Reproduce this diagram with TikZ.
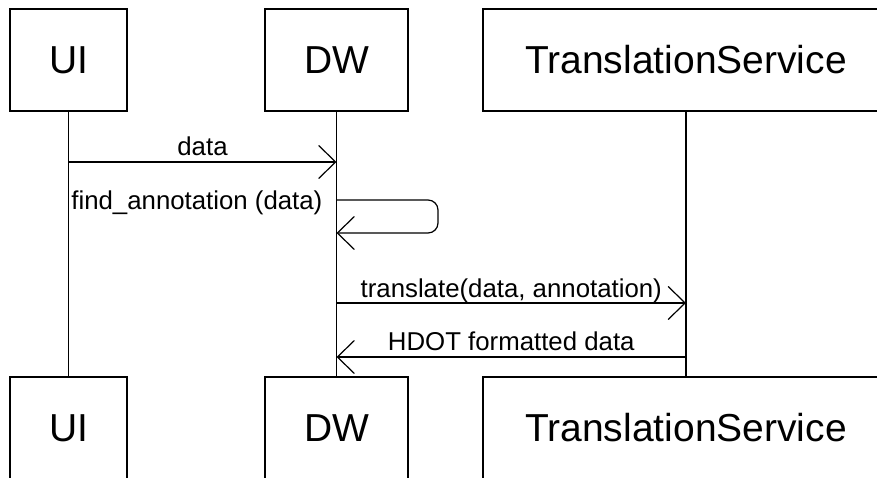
\documentclass[tikz,border=0pt]{standalone}
\usepackage{fontspec}
\setmainfont{Liberation Sans}
\usetikzlibrary{arrows.meta}

\begin{document}
\begin{tikzpicture}[x=1pt,y=-1pt,line width=1.2pt,
  >/.tip={Straight Barb[length=17pt,width=33pt]},
  actor/.style={draw,inner sep=0pt,minimum height=102pt,font=\fontsize{39}{39}\selectfont},
  lbl/.style={font=\fontsize{25.8}{26}\selectfont,inner sep=0pt}]
\useasboundingbox (0,0) rectangle (877,478);

% lifeline heads
\draw (68.5,60)  node (ui) [actor,minimum width=117pt] {UI};
\draw (336.5,60) node (dw) [actor,minimum width=143pt] {DW};
\draw (686,60)   node (ts) [actor,minimum width=406pt] {TranslationService};

% lifeline feet
\draw (68.5,428)  node (uib) [actor,minimum width=117pt] {UI};
\draw (336.5,428) node (dwb) [actor,minimum width=143pt] {DW};
\draw (686,428)   node (tsb) [actor,minimum width=406pt] {TranslationService};

\draw (ui) -- (uib);
\draw (dw) -- (dwb);
\draw (ts) -- (tsb);

% message ends on the lifelines
\coordinate (ui1) at (68.5,162);
\coordinate (dw1) at (336.5,162);
\coordinate (dw2) at (336.5,200);
\coordinate (dw3) at (336.5,233);
\coordinate (dw4) at (336.5,303);
\coordinate (ts4) at (686,303);
\coordinate (dw5) at (336.5,357);
\coordinate (ts5) at (686,357);

\draw[->] (ui1) -- node [lbl,anchor=base,yshift=6pt] {data} (dw1);
\draw[->,rounded corners=10pt] (dw2) -- (438,200) -- (438,233) -- (dw3);
\node (find) [lbl,anchor=base east] at (323,210) {find\_annotation (data)};
\draw[->] (dw4) -- node [lbl,anchor=base,yshift=6pt] {translate(data, annotation)} (ts4);
\draw[->] (ts5) -- node [lbl,anchor=base,yshift=7pt] {HDOT formatted data} (dw5);

\end{tikzpicture}
\end{document}
